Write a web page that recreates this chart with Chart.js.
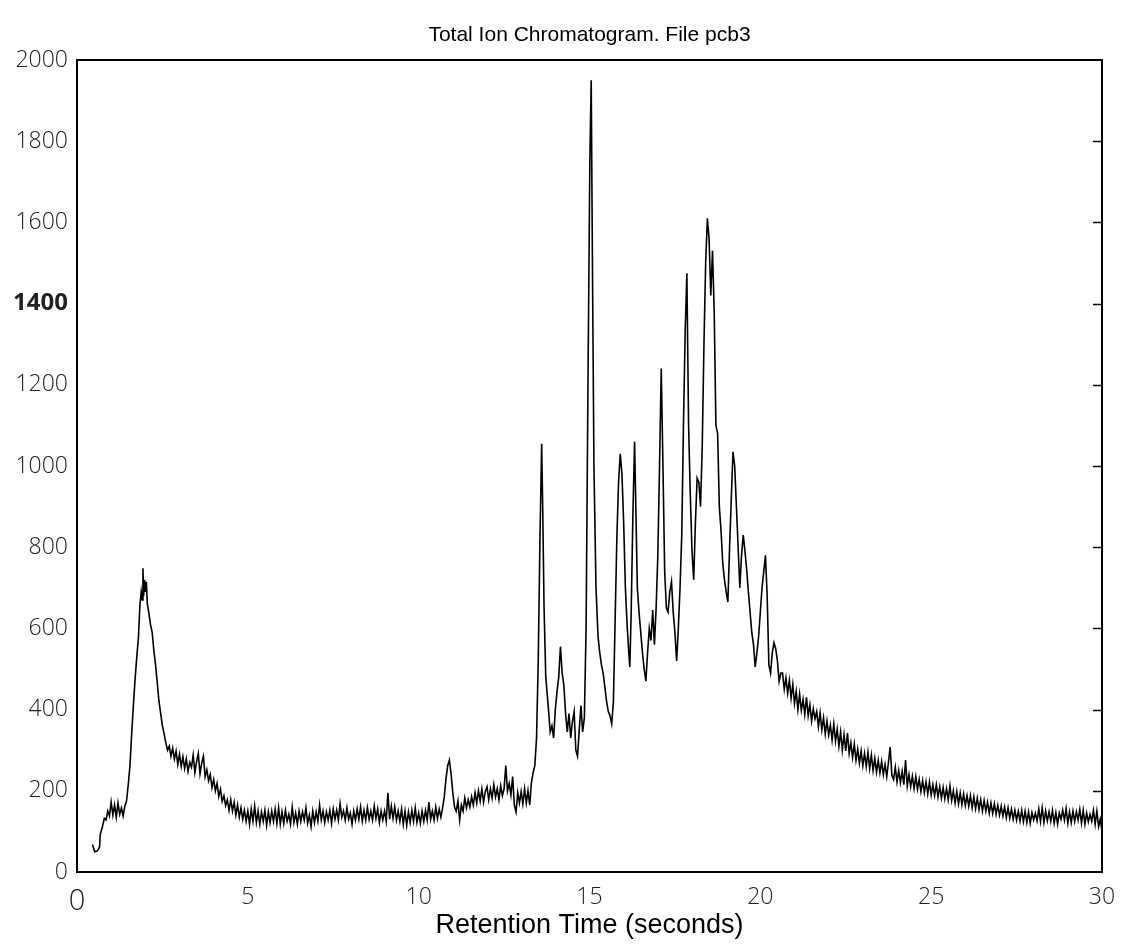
<!DOCTYPE html>
<html>
<head>
<meta charset="utf-8">
<script src="https://cdn.jsdelivr.net/npm/chart.js@4.4.0/dist/chart.umd.min.js"></script>
<style>
  html, body { margin: 0; padding: 0; background: #fff; }
  canvas { display: block; }
</style>
</head>
<body>
<canvas id="tic" width="1122" height="945"></canvas>
<script>
// retention time (s), total ion count
var solventFront = [
  [0.45, 68], [0.52, 50], [0.6, 52], [0.66, 62], [0.68, 92], [0.74, 110], [0.8, 132],
  [0.85, 128], [0.9, 150], [0.95, 138], [1.0, 172], [1.05, 140], [1.1, 165], [1.15, 135],
  [1.2, 170], [1.25, 142], [1.3, 158], [1.35, 138], [1.4, 162], [1.45, 175], [1.5, 215],
  [1.55, 262], [1.6, 340], [1.65, 410], [1.7, 475], [1.75, 530], [1.8, 580], [1.84, 655],
  [1.88, 690], [1.91, 670], [1.93, 748], [1.95, 680], [1.98, 720], [2.0, 690], [2.03, 715],
  [2.06, 660], [2.1, 640], [2.15, 610], [2.2, 590], [2.25, 545], [2.3, 510], [2.35, 465],
  [2.4, 420], [2.45, 390], [2.5, 360], [2.55, 340], [2.6, 318], [2.65, 300], [2.7, 310],
  [2.75, 285], [2.8, 305], [2.85, 278], [2.9, 298], [2.95, 265], [3.0, 290], [3.05, 260],
  [3.1, 284], [3.15, 255], [3.2, 278], [3.25, 248], [3.3, 270], [3.35, 258], [3.4, 288],
  [3.45, 245], [3.5, 272], [3.55, 292], [3.6, 242], [3.65, 268], [3.7, 285], [3.75, 235],
  [3.8, 252], [3.85, 225], [3.9, 240], [3.95, 208], [4.0, 228], [4.05, 200], [4.1, 218],
  [4.15, 186], [4.2, 204], [4.25, 174], [4.3, 188], [4.35, 164], [4.4, 178], [4.45, 152]
];

// 4.50 .. 13.40 s, every 0.05 s
var baselineCounts = [
  178, 150, 172, 140, 165, 135, 158, 130, 152, 125,
  150, 118, 155, 125, 162, 122, 150, 118, 148, 125,
  152, 115, 148, 122, 150, 125, 155, 120, 158, 118,
  148, 120, 152, 125, 142, 118, 160, 122, 145, 118,
  150, 125, 148, 128, 158, 120, 140, 112, 150, 122,
  148, 125, 165, 128, 150, 122, 148, 128, 152, 120,
  155, 130, 152, 128, 168, 135, 150, 128, 158, 130,
  145, 118, 150, 128, 155, 130, 160, 125, 152, 128,
  158, 130, 150, 128, 162, 132, 155, 122, 150, 128,
  150, 125, 195, 130, 162, 132, 160, 128, 150, 125,
  155, 118, 150, 115, 148, 122, 152, 125, 158, 122,
  145, 120, 150, 125, 152, 128, 172, 130, 150, 128,
  160, 132, 155, 135, 158, 185, 230, 262, 276, 240,
  195, 160, 150, 175, 128, 165, 150, 182, 158, 178,
  160, 185, 165, 195, 170, 200, 175, 205, 172, 198,
  210, 178, 205, 182, 215, 185, 205, 178, 212, 188,
  205, 262, 200, 218, 190, 235, 165, 148, 195, 170,
  198, 168, 205, 170, 200, 165, 220, 245, 262
];

var peakCluster = [
  [13.45, 330], [13.5, 520], [13.55, 820], [13.6, 1055], [13.63, 900], [13.67, 650],
  [13.72, 480], [13.8, 400], [13.85, 345], [13.9, 360], [13.95, 330], [14.0, 400],
  [14.05, 445], [14.1, 480], [14.15, 555], [14.2, 490], [14.25, 460], [14.3, 390],
  [14.35, 345], [14.4, 390], [14.45, 330], [14.5, 370], [14.55, 395], [14.6, 300],
  [14.65, 285], [14.7, 350], [14.75, 410], [14.8, 345], [14.85, 380], [14.9, 600],
  [14.96, 1250], [15.01, 1750], [15.05, 1950], [15.09, 1450], [15.13, 1000], [15.19, 700],
  [15.25, 580], [15.3, 540], [15.35, 510], [15.4, 490], [15.45, 455], [15.5, 420],
  [15.55, 395], [15.6, 385], [15.65, 365], [15.7, 420], [15.75, 620], [15.8, 820],
  [15.85, 960], [15.9, 1030], [15.95, 980], [16.0, 860], [16.05, 700], [16.1, 610],
  [16.15, 540], [16.18, 505], [16.22, 640], [16.27, 880], [16.32, 1060], [16.36, 880],
  [16.4, 700], [16.45, 640], [16.5, 590], [16.55, 540], [16.6, 500], [16.65, 470],
  [16.7, 540], [16.75, 600], [16.8, 570], [16.85, 645], [16.9, 560], [16.95, 650],
  [17.0, 780], [17.05, 1000], [17.1, 1240], [17.15, 1000], [17.2, 740], [17.25, 650],
  [17.3, 640], [17.35, 690], [17.4, 715], [17.45, 640], [17.5, 590], [17.55, 520],
  [17.6, 600], [17.65, 700], [17.7, 830], [17.75, 1100], [17.8, 1330], [17.85, 1475],
  [17.9, 1100], [17.95, 930], [18.0, 790], [18.05, 720], [18.1, 860], [18.15, 970],
  [18.2, 960], [18.25, 900], [18.3, 1050], [18.35, 1300], [18.4, 1500], [18.45, 1610],
  [18.5, 1560], [18.55, 1420], [18.6, 1530], [18.65, 1380], [18.7, 1100], [18.75, 1080],
  [18.8, 900], [18.85, 840], [18.9, 760], [18.95, 720], [19.0, 690], [19.05, 665],
  [19.1, 800], [19.15, 920], [19.2, 1035], [19.25, 1000], [19.3, 900], [19.35, 800],
  [19.4, 700], [19.45, 780], [19.5, 830], [19.55, 790], [19.6, 745], [19.65, 690],
  [19.7, 640], [19.75, 590], [19.8, 560], [19.85, 505], [19.9, 540], [19.95, 580],
  [20.0, 640], [20.05, 700], [20.1, 740], [20.15, 780], [20.2, 680], [20.25, 510],
  [20.3, 490], [20.35, 540], [20.4, 565], [20.45, 550], [20.5, 520], [20.55, 470],
  [20.6, 490]
];

// 20.65 .. 30.00 s, every 0.05 s
var tailCounts = [
  490, 450, 478, 440, 472, 428, 462, 415, 445, 400,
  438, 398, 425, 388, 430, 385, 412, 372, 402, 378,
  395, 358, 392, 350, 380, 340, 372, 338, 362, 325,
  365, 322, 352, 310, 345, 300, 338, 298, 342, 292,
  318, 282, 315, 275, 302, 268, 298, 262, 292, 260,
  295, 255, 288, 250, 280, 246, 275, 244, 272, 240,
  265, 235, 270, 308, 238, 228, 258, 222, 250, 220,
  248, 215, 276, 212, 240, 210, 236, 205, 235, 204,
  228, 198, 225, 196, 222, 192, 222, 190, 215, 188,
  215, 185, 210, 182, 208, 180, 205, 178, 212, 176,
  200, 170, 198, 168, 195, 166, 192, 164, 188, 162,
  188, 158, 185, 156, 182, 154, 178, 150, 176, 150,
  172, 145, 170, 144, 168, 142, 164, 140, 162, 138,
  160, 134, 158, 132, 155, 130, 152, 128, 150, 126,
  152, 124, 150, 122, 148, 120, 146, 128, 145, 126,
  155, 124, 158, 122, 150, 126, 148, 125, 152, 120,
  146, 118, 145, 130, 152, 128, 156, 120, 148, 122,
  150, 125, 148, 128, 154, 120, 152, 118, 145, 124,
  142, 125, 152, 118, 150, 112, 130, 100
];

var xTicks = [0, 5, 10, 15, 20, 25, 30];
var yTicks = [0, 200, 400, 600, 800, 1000, 1200, 1400, 1600, 1800, 2000];

function sampled(t0, counts) {
  // sample k sits at t0 + 0.05 s * k
  return counts.map(function (v, k) {
    return [Math.round((t0 + 0.05 * k) * 100) / 100, v];
  });
}

var trace = solventFront
  .concat(sampled(4.5, baselineCounts), peakCluster, sampled(20.65, tailCounts))
  .map(function (p) { return { x: p[0], y: p[1] }; });

// frame box + small inward ticks on the right side
var frame = {
  id: "frame",
  afterDraw: function (chart) {
    var c = chart.ctx, a = chart.chartArea, ys = chart.scales.y;
    c.save();
    c.strokeStyle = "#000";
    c.lineWidth = 2;
    c.strokeRect(a.left, a.top, a.right - a.left, a.bottom - a.top);
    c.lineWidth = 1.5;
    yTicks.forEach(function (v) {
      if (v === 0 || v === 2000) return;
      var py = Math.round(ys.getPixelForValue(v)) + 0.5;
      c.beginPath();
      c.moveTo(a.right - 9, py);
      c.lineTo(a.right, py);
      c.stroke();
    });
    c.restore();
  }
};

var tickFont = "'Open Sans', 'DejaVu Sans', sans-serif";
var labelFont = "'Liberation Sans', Arial, sans-serif";

new Chart(document.getElementById("tic").getContext("2d"), {
  type: "line",
  data: {
    datasets: [
      {
        label: "TIC",
        data: trace,
        borderColor: "#000",
        borderWidth: 1.6,
        pointRadius: 0,
        tension: 0,
        fill: false,
      },
    ],
  },
  options: {
    responsive: false,
    animation: false,
    layout: { padding: { left: 0, right: 20, top: 0, bottom: 0 } },
    plugins: {
      legend: { display: false },
      tooltip: { enabled: false },
    },
    scales: {
      x: {
        type: "linear",
        min: 0,
        max: 30,
        afterBuildTicks: function (s) {
          s.ticks = xTicks.map(function (v) { return { value: v }; });
        },
        afterFit: function (s) {
          s.height = 73;
          s.paddingLeft = 0;
          s.paddingRight = 0;
        },
        grid: { display: false, drawTicks: false },
        border: { display: false },
        ticks: {
          color: "#222",
          padding: 12,
          maxRotation: 0,
          callback: function (v) { return String(v); },
          font: function (ctx) {
            return { family: tickFont, size: ctx.tick && ctx.tick.value === 0 ? 29 : 23, weight: "300" };
          },
        },
        title: {
          display: true,
          text: "Retention Time (seconds)",
          color: "#000",
          font: { family: labelFont, size: 27 },
          padding: { top: 0, bottom: 3 },
        },
      },
      // top axis only carries the chart title, centred over the plot box
      top: {
        type: "linear",
        position: "top",
        min: 0,
        max: 30,
        afterFit: function (s) {
          s.height = 60;
          s.paddingLeft = 0;
          s.paddingRight = 0;
        },
        grid: { display: false, drawTicks: false },
        border: { display: false },
        ticks: { display: false },
        title: {
          display: true,
          text: "Total Ion Chromatogram. File pcb3",
          color: "#000",
          font: { family: labelFont, size: 21 },
          padding: { top: 23, bottom: 12 },
        },
      },
      y: {
        min: 0,
        max: 2000,
        afterBuildTicks: function (s) {
          s.ticks = yTicks.map(function (v) { return { value: v }; });
        },
        afterFit: function (s) { s.width = 77; },
        grid: { display: false, drawTicks: false },
        border: { display: false },
        ticks: {
          color: "#222",
          padding: 9,
          callback: function (v) { return String(v); },
          font: function (ctx) {
            var v = ctx.tick && ctx.tick.value;
            return { family: tickFont, size: v === 1400 ? 24 : 23, weight: v === 1400 ? "bold" : "300" };
          },
        },
      },
    },
  },
  plugins: [frame],
});
</script>
</body>
</html>
